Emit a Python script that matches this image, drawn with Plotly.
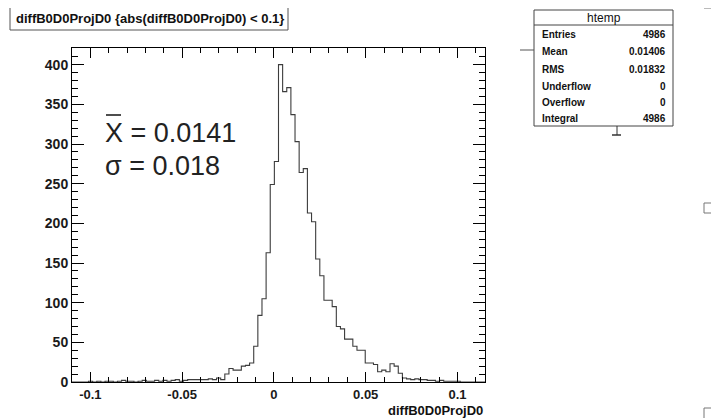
import numpy as np
import plotly.graph_objects as go

# ---------------- data ----------------
nbins = 100
xlow, xhigh = -0.11, 0.115
counts = [0, 0, 0, 0, 1, 0, 1, 0, 1, 1,
          0, 1, 2, 1, 1, 0, 1, 2, 1, 1,
          2, 1, 2, 1, 2, 3, 1, 2, 3, 3,
          3, 3, 3, 4, 3, 5, 3, 10, 17, 15,
          15, 20, 21, 24, 45, 84, 105, 163, 249, 278,
          400, 366, 371, 337, 303, 264, 269, 213, 202, 155,
          134, 103, 103, 95, 70, 67, 54, 54, 45, 40,
          40, 24, 24, 22, 13, 15, 13, 23, 20, 11,
          5, 4, 3, 4, 3, 3, 2, 2, 1, 2,
          1, 1, 1, 1, 0, 0, 0, 0, 0, 0]
xtick_vals = [-0.1, -0.05, 0, 0.05, 0.1]
xtick_text = ["-0.1", "-0.05", "0", "0.05", "0.1"]
ytick_vals = [0, 50, 100, 150, 200, 250, 300, 350, 400]
stat_names = ["Entries", "Mean", "RMS", "Underflow", "Overflow", "Integral"]
stat_values = ["4986", "0.01406", "0.01832", "0", "0", "4986"]
hist_name = "htemp"
title_text = "diffB0D0ProjD0 {abs(diffB0D0ProjD0) < 0.1}"
xtitle_text = "diffB0D0ProjD0"
mean_text = "X = 0.0141"
sigma_text = "\u03c3 = 0.018"

# ---------------- layout helpers ----------------
# the page has an 8px body margin; all page coordinates are shifted by it
OFF = 8
W, H = 719 - OFF, 418 - OFF
L, R, T, B = 72 - OFF, 485 - OFF, 48 - OFF, 382 - OFF


def px(x):
    return (x - OFF - L) / (R - L)


def py(y):
    return (B - (y - OFF)) / (B - T)


edges = np.linspace(xlow, xhigh, nbins + 1)
xs = np.repeat(edges, 2)
ys = np.concatenate([[0], np.repeat(np.array(counts, dtype=float), 2), [0]])

fig = go.Figure()
fig.add_trace(go.Scatter(x=xs, y=ys, mode="lines",
                         line=dict(color="#3c3c3c", width=1.1),
                         hoverinfo="skip", showlegend=False))

FONT = "Liberation Sans, Arial, Helvetica, sans-serif"
axis_common = dict(showgrid=False, zeroline=False, showline=True,
                   linecolor="black", linewidth=1, mirror="ticks",
                   ticks="inside", tickcolor="black", tickwidth=1)

fig.update_layout(
    width=W, height=H,
    margin=dict(l=L, r=W - R, t=T, b=H - B),
    paper_bgcolor="white", plot_bgcolor="white",
    showlegend=False,
    xaxis=dict(range=[xlow, xhigh], tickvals=xtick_vals, ticktext=xtick_text,
               ticklen=10,
               minor=dict(dtick=0.01, tick0=0, ticklen=5, ticks="inside",
                          tickcolor="black", showgrid=False),
               tickfont=dict(family=FONT, size=13, color="#1a1a1a", weight="bold"),
               **axis_common),
    yaxis=dict(range=[0, 421], tickvals=ytick_vals,
               ticklen=12,
               minor=dict(dtick=10, tick0=0, ticklen=6, ticks="inside",
                          tickcolor="black", showgrid=False),
               tickfont=dict(family=FONT, size=14, color="#1a1a1a", weight="bold"),
               **axis_common),
)

shapes = []
annotations = []

# title box
shapes.append(dict(type="rect", xref="paper", yref="paper",
                   x0=px(10), x1=px(288), y0=py(30), y1=py(6),
                   line=dict(color="#555", width=1), fillcolor="white"))
annotations.append(dict(text=title_text, xref="paper", yref="paper",
                        x=px(150), y=py(18), xanchor="center", yanchor="middle",
                        showarrow=False,
                        font=dict(family=FONT, size=13, color="#111", weight="bold")))

# x-axis title
annotations.append(dict(text=xtitle_text, xref="paper", yref="paper",
                        x=px(485), y=py(410), xanchor="right", yanchor="middle",
                        showarrow=False,
                        font=dict(family=FONT, size=13, color="#111", weight="bold")))

# mean / sigma text
annotations.append(dict(text=mean_text, xref="paper", yref="paper",
                        x=px(103), y=py(133), xanchor="left", yanchor="middle",
                        showarrow=False,
                        font=dict(family=FONT, size=27, color="#222")))
shapes.append(dict(type="line", xref="paper", yref="paper",
                   x0=px(106), x1=px(121), y0=py(115), y1=py(115),
                   line=dict(color="#222", width=1.6)))
annotations.append(dict(text=sigma_text, xref="paper", yref="paper",
                        x=px(103), y=py(166), xanchor="left", yanchor="middle",
                        showarrow=False,
                        font=dict(family=FONT, size=27, color="#222")))

# stats box
sx0, sx1, sy0, sy1, shead = 534, 673, 10, 126, 25
shapes.append(dict(type="rect", xref="paper", yref="paper",
                   x0=px(sx0), x1=px(sx1), y0=py(sy1), y1=py(sy0),
                   line=dict(color="#444", width=1), fillcolor="white"))
shapes.append(dict(type="line", xref="paper", yref="paper",
                   x0=px(sx0), x1=px(sx1), y0=py(shead), y1=py(shead),
                   line=dict(color="#444", width=1)))
annotations.append(dict(text=hist_name, xref="paper", yref="paper",
                        x=px((sx0 + sx1) / 2), y=py(17.5), xanchor="center",
                        yanchor="middle", showarrow=False,
                        font=dict(family=FONT, size=12, color="#111")))
row_y = [35, 52, 69, 86, 102, 118]
for name, val, yy in zip(stat_names, stat_values, row_y):
    annotations.append(dict(text=name, xref="paper", yref="paper",
                            x=px(540), y=py(yy), xanchor="left", yanchor="middle",
                            showarrow=False,
                            font=dict(family=FONT, size=10, color="#111", weight="bold")))
    annotations.append(dict(text=val, xref="paper", yref="paper",
                            x=px(668), y=py(yy), xanchor="right", yanchor="middle",
                            showarrow=False,
                            font=dict(family=FONT, size=10, color="#111", weight="bold")))

# small artifacts from neighbouring pads
shapes.append(dict(type="line", xref="paper", yref="paper",
                   x0=px(520), x1=px(sx0), y0=py(50), y1=py(50),
                   line=dict(color="#555", width=1)))
shapes.append(dict(type="line", xref="paper", yref="paper",
                   x0=px(617), x1=px(617), y0=py(126), y1=py(135),
                   line=dict(color="#333", width=1)))
shapes.append(dict(type="line", xref="paper", yref="paper",
                   x0=px(612), x1=px(621), y0=py(135), y1=py(135),
                   line=dict(color="#333", width=1.5)))
for (bx0, by0, by1) in [(704, 1, 8), (704, 203, 213), (704, 408, 420)]:
    shapes.append(dict(type="rect", xref="paper", yref="paper",
                       x0=px(bx0), x1=px(722), y0=py(by1), y1=py(by0),
                       line=dict(color="#777", width=1), fillcolor="white"))
annotations.append(dict(text="c", xref="paper", yref="paper",
                        x=px(711), y=py(208), xanchor="left", yanchor="middle",
                        showarrow=False,
                        font=dict(family=FONT, size=8, color="#555")))

fig.update_layout(shapes=shapes, annotations=annotations)
fig.write_html("out.html")
